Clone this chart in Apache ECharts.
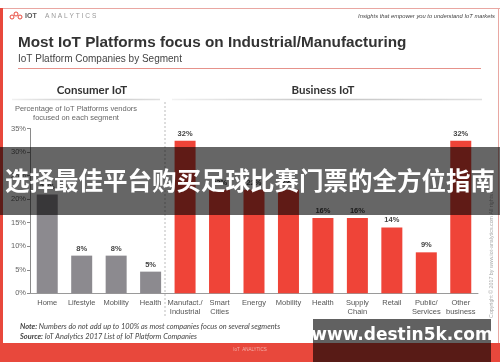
<!DOCTYPE html>
<html><head><meta charset="utf-8">
<script src="https://cdn.jsdelivr.net/npm/echarts@6/dist/echarts.min.js"></script>
<style>html,body{margin:0;padding:0;background:#fff;overflow:hidden}#c{width:500px;height:362px}</style>
</head><body><div id="c"></div>
<script>
// ---- data ----
const categories = ['Home', 'Lifestyle', 'Mobility', 'Health', 'Manufact./\nIndustrial', 'Smart\nCities', 'Energy', 'Mobility', 'Health', 'Supply\nChain', 'Retail', 'Public/\nServices', 'Other\nbusiness'];
const segments = ['consumer', 'consumer', 'consumer', 'consumer', 'business', 'business', 'business', 'business', 'business', 'business', 'business', 'business', 'business'];
const values = [21, 8, 8, 4.6, 32.4, 22, 22, 22, 16, 16, 14, 8.7, 32.4];
const yTicks = [0, 5, 10, 15, 20, 25, 30, 35];
const segmentTitles = ['Consumer IoT', 'Business IoT'];

const colors = { consumer: '#8c8a8f', business: '#ef4438' };

const chart = echarts.init(document.getElementById('c'), null, { renderer: 'canvas' });

const sans = 'Liberation Sans, Arial, sans-serif';
const hum = 'Lato, Open Sans, sans-serif';

const option = {
  animation: false,
  backgroundColor: '#fff',
  grid: { left: 30, right: 22, top: 128.5, bottom: 68.7, containLabel: false },
  xAxis: {
    type: 'category',
    data: categories,
    axisLine: { lineStyle: { color: '#9a9a9a', width: 1 } },
    axisTick: { show: false },
    axisLabel: { fontSize: 7.5, color: '#555', lineHeight: 9, margin: 5, fontFamily: sans, interval: 0 }
  },
  yAxis: {
    type: 'value',
    min: yTicks[0],
    max: yTicks[yTicks.length - 1],
    interval: 5,
    axisLine: { show: true, lineStyle: { color: '#8a8a8a', width: 1 } },
    axisTick: { show: true, length: 3, lineStyle: { color: '#8a8a8a' } },
    axisLabel: { formatter: '{value}%', fontSize: 7.5, color: '#666', margin: 4, fontFamily: sans },
    splitLine: { show: false }
  },
  series: [{
    type: 'bar',
    barWidth: 21,
    data: values.map((v, i) => ({ value: v, itemStyle: { color: colors[segments[i]] } })),
    label: {
      show: true, position: 'top', distance: 3,
      formatter: p => Math.round(p.value) + '%',
      fontSize: 7.5, fontWeight: 'bold', color: '#444', fontFamily: sans
    }
  }],
  graphic: [
    // frame
    { type: 'line', shape: { x1: 0, y1: 8.5, x2: 500, y2: 8.5 }, style: { stroke: '#e9a7a2', lineWidth: 1 } },
    { type: 'rect', shape: { x: 0, y: 8, width: 3, height: 336 }, style: { fill: '#e8483c' } },
    { type: 'line', shape: { x1: 498.5, y1: 8, x2: 498.5, y2: 344 }, style: { stroke: '#e9a7a2', lineWidth: 1 } },
    { type: 'rect', shape: { x: 0, y: 343, width: 500, height: 19 }, style: { fill: '#e8483c' } },
    { type: 'text', x: 250, y: 350, style: { text: 'IoT  ANALYTICS', fontSize: 4.5, fill: '#f3b0aa', fontFamily: sans, align: 'center', verticalAlign: 'middle' } },
    // logo
    { type: 'circle', shape: { cx: 12, cy: 17, r: 2 }, style: { fill: 'none', stroke: '#e8483c', lineWidth: 1 } },
    { type: 'circle', shape: { cx: 16, cy: 14, r: 2 }, style: { fill: 'none', stroke: '#e8483c', lineWidth: 1 } },
    { type: 'circle', shape: { cx: 20, cy: 17, r: 2 }, style: { fill: 'none', stroke: '#e8483c', lineWidth: 1 } },
    { type: 'text', x: 25, y: 16.5, style: { text: 'IOT', fontSize: 7, fontWeight: 'bold', fill: '#555', fontFamily: sans, verticalAlign: 'middle' } },
    { type: 'text', x: 45, y: 16.5, style: { text: 'A N A L Y T I C S', fontSize: 6.6, fill: '#999', fontFamily: sans, verticalAlign: 'middle' } },
    { type: 'text', x: 495, y: 16, style: { text: 'Insights that empower you to understand IoT markets', fontSize: 5.8, fontStyle: 'italic', fill: '#444', fontFamily: sans, align: 'right', verticalAlign: 'middle' } },
    // title
    { type: 'text', x: 18, y: 43, style: { text: 'Most IoT Platforms focus on Industrial/Manufacturing', fontSize: 15.3, fontWeight: 'bold', fill: '#333', fontFamily: sans, verticalAlign: 'middle' } },
    { type: 'text', x: 18, y: 59, style: { text: 'IoT Platform Companies by Segment', fontSize: 10, fill: '#444', fontFamily: sans, verticalAlign: 'middle' } },
    { type: 'line', shape: { x1: 18, y1: 68.5, x2: 481, y2: 68.5 }, style: { stroke: '#e6928b', lineWidth: 1 } },
    // segment headers
    { type: 'text', x: 92, y: 90, style: { text: segmentTitles[0], fontSize: 11.5, fontWeight: 'bold', fill: '#333', fontFamily: hum, align: 'center', verticalAlign: 'middle' } },
    { type: 'text', x: 323, y: 90, style: { text: segmentTitles[1], fontSize: 11.5, fontWeight: 'bold', fill: '#333', fontFamily: hum, align: 'center', verticalAlign: 'middle' } },
    { type: 'line', shape: { x1: 12, y1: 99.5, x2: 160, y2: 99.5 }, style: { stroke: new echarts.graphic.LinearGradient(0, 0, 1, 0, [{ offset: 0, color: '#f2f2f2' }, { offset: 0.5, color: '#c4c4c4' }, { offset: 1, color: '#e0e0e0' }]), lineWidth: 1.5 } },
    { type: 'line', shape: { x1: 172, y1: 99.5, x2: 482, y2: 99.5 }, style: { stroke: new echarts.graphic.LinearGradient(0, 0, 1, 0, [{ offset: 0, color: '#f2f2f2' }, { offset: 0.5, color: '#c4c4c4' }, { offset: 1, color: '#e0e0e0' }]), lineWidth: 1.5 } },
    { type: 'line', shape: { x1: 165, y1: 102, x2: 165, y2: 316 }, style: { stroke: '#aaa', lineWidth: 0.8, lineDash: [2, 2] } },
    // y axis title
    { type: 'text', x: 76, y: 113.5, style: { text: 'Percentage of IoT Platforms vendors\nfocused on each segment', fontSize: 7.5, lineHeight: 9, fill: '#666', fontFamily: sans, align: 'center', verticalAlign: 'middle' } },
    // notes
    { type: 'text', x: 20, y: 327, style: { rich: { b: { fontWeight: 'bold', fontStyle: 'italic', fontSize: 7.4, fill: '#444', fontFamily: hum }, n: { fontStyle: 'italic', fontSize: 7.4, fill: '#444', fontFamily: hum } }, text: '{b|Note:}{n| Numbers do not add up to 100% as most companies focus on several segments}', verticalAlign: 'middle' } },
    { type: 'text', x: 20, y: 336.5, style: { rich: { b: { fontWeight: 'bold', fontStyle: 'italic', fontSize: 7.4, fill: '#444', fontFamily: hum }, n: { fontStyle: 'italic', fontSize: 7.4, fill: '#444', fontFamily: hum } }, text: '{b|Source:}{n| IoT Analytics 2017 List of IoT Platform Companies}', verticalAlign: 'middle' } },
    // copyright vertical
    { type: 'text', x: 492, y: 245, rotation: Math.PI / 2, style: { text: 'Copyright © 2017 by www.iot-analytics.com All rights reserved', fontSize: 5.3, fill: '#aaa', fontFamily: sans, align: 'center', verticalAlign: 'middle' } },
    // banner overlay
    { type: 'rect', z: 100, shape: { x: 0, y: 147, width: 500, height: 68 }, style: { fill: 'rgba(0,0,0,0.6)' } },
    { type: 'text', z: 101, x: 250, y: 181, style: { text: '选择最佳平台购买足球比赛门票的全方位指南', fontSize: 24.5, fontWeight: 'bold', fill: '#fff', fontFamily: 'Noto Sans CJK SC', align: 'center', verticalAlign: 'middle' } },
    // watermark
    { type: 'rect', z: 100, shape: { x: 313, y: 319, width: 178, height: 43 }, style: { fill: 'rgba(0,0,0,0.62)' } },
    { type: 'text', z: 101, x: 402, y: 336, style: { text: 'www.destin5k.com', fontSize: 17, fontWeight: 'bold', fill: '#fff', fontFamily: 'DejaVu Sans', align: 'center', verticalAlign: 'middle' } }
  ]
};
chart.setOption(option);
</script></body></html>
